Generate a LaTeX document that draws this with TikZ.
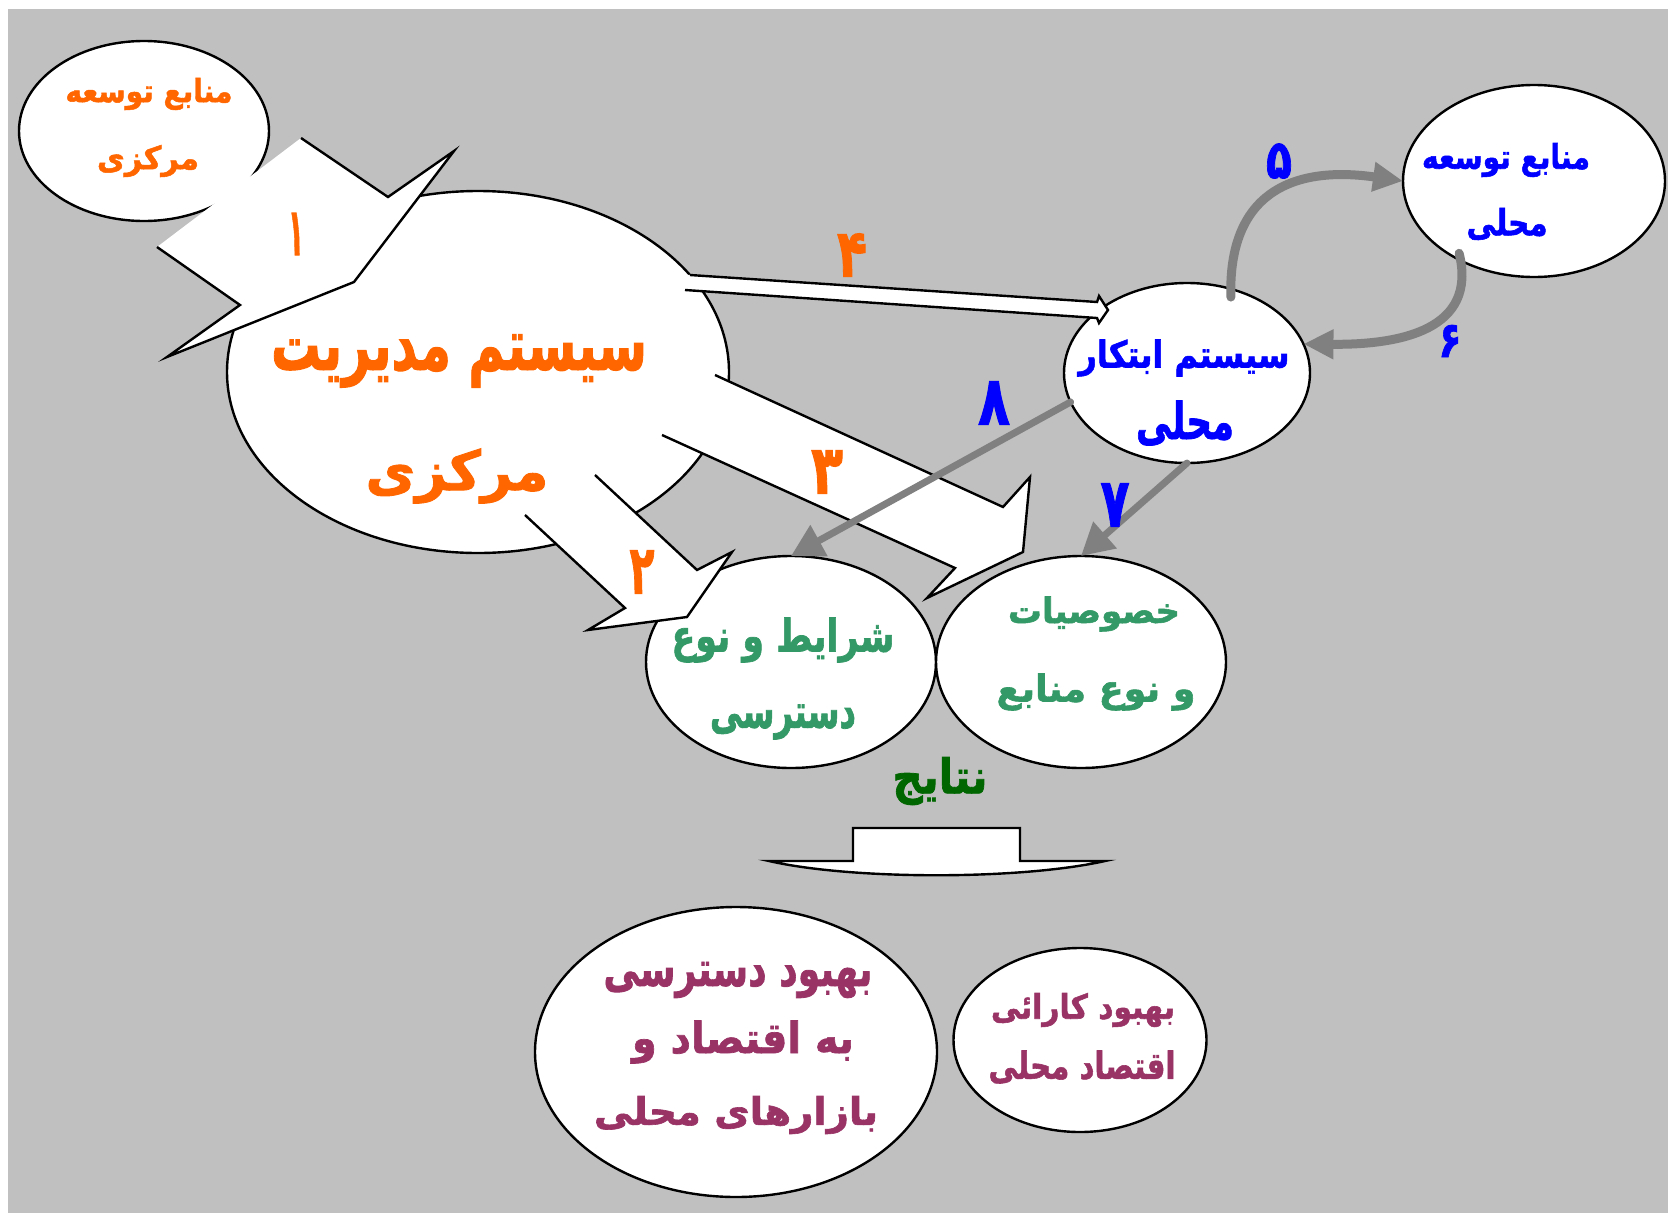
\documentclass[tikz,border=0pt]{standalone}
\usepackage{fontspec}
\usepackage{graphicx}
\usetikzlibrary{arrows.meta,shapes.geometric,calc}
\TeXXeTstate=1
\newfontfamily\fafont[Script=Arabic,UprightFont={* Bold},FakeBold=1.6]{DejaVu Sans}
\definecolor{bg}{HTML}{C0C0C0}
\definecolor{orng}{HTML}{FF6600}
\definecolor{blu}{HTML}{0000FF}
\definecolor{grn}{HTML}{339966}
\definecolor{dgrn}{HTML}{006600}
\definecolor{plum}{HTML}{993366}
\definecolor{conn}{HTML}{808080}
\newcommand\fa[3]{\resizebox*{#1pt}{#2pt}{\fafont #3}}
\tikzset{
  ell/.style={ellipse, draw=black, fill=white, line width=2.4pt, inner sep=0pt, outer sep=0pt},
  barrow/.style={draw=black, line width=2.4pt},
  lbl/.style={inner sep=0pt, outer sep=0pt},
  gconnA/.style={draw=conn, line width=9pt, line cap=round, -{Triangle[length=30pt,width=28pt]}},
  gconnB/.style={draw=conn, line width=7pt, line cap=round, -{Triangle[length=32pt,width=34pt]}},
}
\begin{document}
\begin{tikzpicture}[x=1pt,y=-1pt]
\useasboundingbox (0,0) rectangle (1668,1213);
\fill[white] (0,0) rectangle (1668,1213);
\fill[bg] (8,9) rectangle (1668,1213);

% ellipses
\node[ell, minimum width=250pt, minimum height=180pt] (A) at (144,131) {};
\node[ell, minimum width=502pt, minimum height=362pt] (B) at (478,372) {};
\node[ell, minimum width=262pt, minimum height=192pt] (C) at (1534,181) {};
\node[ell, minimum width=246pt, minimum height=180pt] (D) at (1187,373) {};
\node[ell, minimum width=290pt, minimum height=212pt] (E) at (791,662) {};
\node[ell, minimum width=290pt, minimum height=212pt] (F) at (1081,662) {};
\node[ell, minimum width=402pt, minimum height=290pt] (G) at (736,1052) {};
\node[ell, minimum width=253pt, minimum height=184pt] (H) at (1080,1040) {};

% block arrow 1
\fill[white] (301,138) -- (388,197) -- (454,151) -- (354,282) -- (167,357) -- (240,305) -- (157,247) -- cycle;
\draw[barrow] (301,138) -- (388,197) -- (454,151) -- (354,282) -- (167,357) -- (240,305) -- (157,247);
% block arrow 2
\fill[white] (595,475) -- (697,570) -- (732,552) -- (687,617) -- (588,630) -- (625,608) -- (525,515) -- cycle;
\draw[barrow] (595,475) -- (697,570) -- (732,552) -- (687,617) -- (588,630) -- (625,608) -- (525,515);
% block arrow 3
\fill[white] (715,375) -- (1003,507) -- (1030,477) -- (1023,552) -- (927,598) -- (955,568) -- (662,435) -- cycle;
\draw[barrow] (715,375) -- (1003,507) -- (1030,477) -- (1023,552) -- (927,598) -- (955,568) -- (662,435);
% block arrow 4
\fill[white] (665,273) -- (690,275) -- (1097,302) -- (1099,296) -- (1108,310) -- (1099,323) -- (1097,318) -- (685,290) -- (665,290) -- cycle;
\draw[barrow] (690,275) -- (1097,302) -- (1099,296) -- (1108,310) -- (1099,323) -- (1097,318) -- (685,290);
% results arrow
\filldraw[barrow, fill=white] (853,828) -- (1020,828) -- (1020,861) -- (1105,861) .. controls (1020,880) and (852,880) .. (769,861) -- (853,861) -- cycle;

% grey connectors
\draw[gconnA] ($(D.60)!8pt!(D.center)$) .. controls (1228,195) and (1290,165) .. (C.west);
\draw[gconnA] ($(C.224)!6pt!(C.center)$) .. controls (1478,330) and (1400,345) .. (D.14);
\draw[gconnB] (D.south) -- (F.north);
\draw[gconnB] (D.194) -- (E.north);

% texts
\node[lbl, text=orng] (tA1) at (149,94) {\fa{167}{32}{\beginR منابع توسعه\endR}};
\node[lbl, text=orng] (tA2) at (148,161) {\fa{102}{32}{\beginR مرکزی\endR}};
\node[lbl, text=orng] (tB1) at (459,361) {\fa{376}{53}{\beginR سیستم مدیریت\endR}};
\node[lbl, text=orng] (tB2) at (457,476) {\fa{183}{55}{\beginR مرکزی\endR}};
\node[lbl, text=blu] (tC1) at (1506,160) {\fa{168}{34}{\beginR منابع توسعه\endR}};
\node[lbl, text=blu] (tC2) at (1507,224) {\fa{81}{32}{\beginR محلی\endR}};
\node[lbl, text=blu] (tD1) at (1184,358) {\fa{211}{37}{\beginR سیستم ابتکار\endR}};
\node[lbl, text=blu] (tD2) at (1185,423) {\fa{98}{45}{\beginR محلی\endR}};
\node[lbl, text=grn] (tE1) at (783,640) {\fa{223}{45}{\beginR شرایط  و نوع\endR}};
\node[lbl, text=grn] (tE2) at (783,722) {\fa{146}{35}{\beginR دسترسی\endR}};
\node[lbl, text=grn] (tF1) at (1094,614) {\fa{172}{35}{\beginR خصوصیات\endR}};
\node[lbl, text=grn] (tF2) at (1096,692) {\fa{199}{37}{\beginR و نوع  منابع\endR}};
\node[lbl, text=dgrn] (tN) at (940,781) {\fa{95}{48}{\beginR نتایج\endR}};
\node[lbl, text=plum] (tG1) at (738,980) {\fa{269}{36}{\beginR بهبود دسترسی\endR}};
\node[lbl, text=plum] (tG2) at (743,1042) {\fa{222}{43}{\beginR به اقتصاد و\endR}};
\node[lbl, text=plum] (tG3) at (736,1115) {\fa{284}{38}{\beginR بازارهای محلی\endR}};
\node[lbl, text=plum] (tH1) at (1083,1010) {\fa{184}{34}{\beginR بهبود کارائی\endR}};
\node[lbl, text=plum] (tH2) at (1082,1067) {\fa{187}{33}{\beginR اقتصاد محلی\endR}};

% numbers
\node[lbl, text=orng] (n1) at (296,234) {\fa{16}{42}{\beginR ۱\endR}};
\node[lbl, text=orng] (n2) at (642,572) {\fa{25}{43}{\beginR ۲\endR}};
\node[lbl, text=orng] (n3) at (827,472) {\fa{32}{43}{\beginR ۳\endR}};
\node[lbl, text=orng] (n4) at (852,255) {\fa{30}{43}{\beginR ۴\endR}};
\node[lbl, text=blu] (n5) at (1279,161) {\fa{26}{35}{\beginR ۵\endR}};
\node[lbl, text=blu] (n6) at (1450,341) {\fa{23}{32}{\beginR ۶\endR}};
\node[lbl, text=blu] (n7) at (1115,505) {\fa{29}{43}{\beginR ۷\endR}};
\node[lbl, text=blu] (n8) at (994,403) {\fa{32}{43}{\beginR ۸\endR}};
\end{tikzpicture}
\end{document}
